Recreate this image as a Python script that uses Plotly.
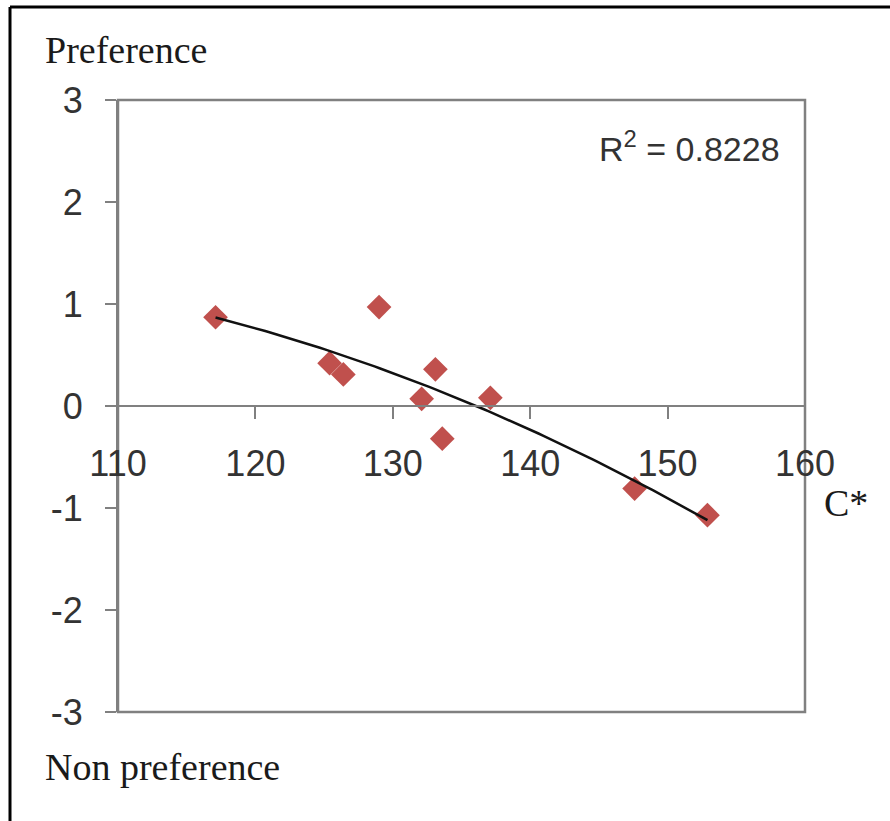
import numpy as np
import plotly.graph_objects as go

# Data
c_star = [117.1, 125.4, 126.4, 129.0, 133.1, 132.1, 133.6, 137.1, 147.6, 152.9]
preference = [0.87, 0.42, 0.31, 0.97, 0.36, 0.07, -0.32, 0.08, -0.81, -1.07]
x_ticks = [110, 120, 130, 140, 150, 160]
y_ticks = [-3, -2, -1, 0, 1, 2, 3]
y_tick_text = ["-3", "-2", "-1", "0", "1", "2", "3"]
r2_label = "R<sup>2</sup> = 0.8228"

# Second-order polynomial trendline (as in the source chart)
coef = np.polyfit(c_star, preference, 2)
xs = np.linspace(min(c_star), max(c_star), 100)
ys = np.polyval(coef, xs)

AX = "#808080"
TICKFONT = dict(family="Liberation Sans, Arial", size=36, color="#333333")
SERIF = dict(family="Liberation Serif, Times New Roman, serif", size=38, color="#1a1a1a")

fig = go.Figure()
fig.add_trace(go.Scatter(
    x=c_star, y=preference, mode="markers",
    marker=dict(symbol="diamond", size=19, color="#C0504D", line=dict(width=0)),
    showlegend=False, hoverinfo="skip"))
fig.add_trace(go.Scatter(
    x=xs, y=ys, mode="lines", line=dict(color="#111111", width=2.5),
    showlegend=False, hoverinfo="skip"))

fig.update_layout(
    width=890, height=821, autosize=False,
    margin=dict(l=118, r=85, t=100, b=109, pad=0),
    paper_bgcolor="white", plot_bgcolor="white",
    xaxis=dict(range=[110, 160], tickvals=x_ticks, showgrid=False, zeroline=False,
               showline=True, linecolor=AX, linewidth=2, ticks="outside", ticklen=12,
               tickwidth=2, tickcolor=AX, anchor="free", position=0.5,
               ticklabelstandoff=14, tickfont=TICKFONT),
    yaxis=dict(range=[-3, 3], tickvals=y_ticks, ticktext=y_tick_text, showgrid=False,
               zeroline=False, showline=True, linecolor=AX, linewidth=2, ticks="outside",
               ticklen=11, tickwidth=2, tickcolor=AX, ticklabelstandoff=15, tickfont=TICKFONT),
    shapes=[
        dict(type="rect", xref="x domain", yref="y domain", x0=0, x1=1, y0=0, y1=1,
             line=dict(color=AX, width=2.5), layer="below"),
        dict(type="line", xref="paper", yref="paper", x0=-0.1572, x1=1.2, y0=1.152, y1=1.152,
             line=dict(color="black", width=3)),
        dict(type="line", xref="paper", yref="paper", x0=-0.1572, x1=-0.1572, y0=1.152, y1=-0.2,
             line=dict(color="black", width=3)),
    ],
    annotations=[
        dict(text="Preference", xref="paper", yref="paper", x=(43 - 118) / 687, y=(712 - 50) / 612,
             xanchor="left", yanchor="middle", showarrow=False, font=SERIF),
        dict(text="Non preference", xref="paper", yref="paper", x=(43 - 118) / 687, y=(712 - 767) / 612,
             xanchor="left", yanchor="middle", showarrow=False, font=SERIF),
        dict(text="C*", xref="paper", yref="paper", x=(822 - 118) / 687, y=(712 - 503) / 612,
             xanchor="left", yanchor="middle", showarrow=False, font=SERIF),
        dict(text=r2_label, xref="paper", yref="paper", x=(782 - 118) / 687, y=(712 - 147) / 612,
             xanchor="right", yanchor="middle", showarrow=False,
             font=dict(family="Liberation Sans, Arial", size=34, color="#333333")),
    ],
)

fig.write_html("out.html")
